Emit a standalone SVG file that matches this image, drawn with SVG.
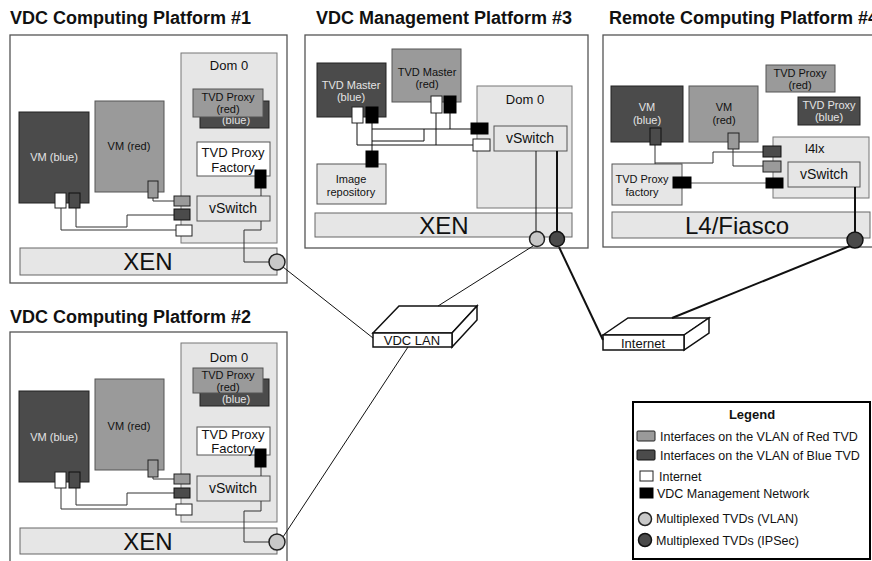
<svg xmlns="http://www.w3.org/2000/svg" width="872" height="561" viewBox="0 0 872 561">
<style>
text{font-family:"Liberation Sans",Arial,Helvetica,sans-serif;fill:#111}
.title{font-size:18px;font-weight:bold}
.plat{fill:#fff;stroke:#555;stroke-width:1.3}
.dom{fill:#e6e6e6;stroke:#777;stroke-width:1}
.bar{fill:#e6e6e6;stroke:#666;stroke-width:1}
.dark{fill:#4b4b4b;stroke:#222;stroke-width:1}
.mid{fill:#9a9a9a;stroke:#555;stroke-width:1}
.wbox{fill:#fff;stroke:#555;stroke-width:1}
.pr{fill:#9a9a9a;stroke:#222;stroke-width:1}
.pb{fill:#4b4b4b;stroke:#111;stroke-width:1}
.pw{fill:#fff;stroke:#222;stroke-width:1}
.pk{fill:#000;stroke:#000;stroke-width:1}
.ln{fill:none;stroke:#333;stroke-width:1}
.lg{fill:none;stroke:#555;stroke-width:1.2}
.thick{fill:none;stroke:#111;stroke-width:2}
.thin{fill:none;stroke:#111;stroke-width:1}
.cl{fill:#c8c8c8;stroke:#222;stroke-width:1.5}
.cd{fill:#4a4a4a;stroke:#111;stroke-width:1.5}
.sw{fill:#fff;stroke:#111;stroke-width:1.5}
.c{text-anchor:middle}
.s11{font-size:11px}
.s12{font-size:12px}
.s125{font-size:12.5px}
.s13{font-size:13px}
.s14{font-size:14px}
.big{font-size:24px}
.lt{fill:#e4e4e4}
</style>

<!-- Platform 1 -->
<g id="platform1">
  <text class="title" x="10" y="24">VDC Computing Platform #1</text>
  <rect class="plat" x="10" y="35" width="277" height="248"/>
  <rect class="dom" x="181" y="53" width="96" height="190"/>
  <text class="s13 c" x="229" y="70">Dom 0</text>
  <rect class="dark" x="200" y="101" width="69" height="27"/>
  <text class="s11 c lt" x="236" y="124">(blue)</text>
  <rect class="mid" x="193" y="89" width="70" height="28"/>
  <text class="s11 c" x="228" y="101">TVD Proxy</text>
  <text class="s11 c" x="228" y="113">(red)</text>
  <rect class="wbox" x="197" y="142" width="73" height="34"/>
  <text class="s13 c" x="233" y="157">TVD Proxy</text>
  <text class="s13 c" x="233" y="172">Factory</text>
  <rect class="wbox" x="197" y="196" width="73" height="25" style="fill:#e6e6e6"/>
  <text class="s14 c" x="233" y="213">vSwitch</text>
  <rect class="dark" x="19" y="112" width="70" height="91"/>
  <text class="s11 c lt" x="54" y="161">VM (blue)</text>
  <rect class="mid" x="95" y="101" width="69" height="91"/>
  <text class="s11 c" x="129" y="150">VM (red)</text>
  <rect class="bar" x="20" y="248" width="257" height="27"/>
  <text class="big c" x="148" y="270">XEN</text>
</g>

<!-- Platform 2 -->
<g id="platform2">
  <text class="title" x="10" y="323">VDC Computing Platform #2</text>
  <rect class="plat" x="10" y="332" width="277" height="245"/>
  <rect class="dom" x="181" y="343" width="96" height="179"/>
  <text class="s13 c" x="229" y="362">Dom 0</text>
  <rect class="dark" x="200" y="379" width="69" height="27"/>
  <text class="s11 c lt" x="236" y="403">(blue)</text>
  <rect class="mid" x="193" y="368" width="70" height="25"/>
  <text class="s11 c" x="228" y="379">TVD Proxy</text>
  <text class="s11 c" x="228" y="391">(red)</text>
  <rect class="wbox" x="197" y="427" width="73" height="28"/>
  <text class="s13 c" x="233" y="439">TVD Proxy</text>
  <text class="s13 c" x="233" y="453">Factory</text>
  <rect class="wbox" x="197" y="476" width="73" height="25" style="fill:#e6e6e6"/>
  <text class="s14 c" x="233" y="493">vSwitch</text>
  <rect class="dark" x="19" y="391" width="70" height="91"/>
  <text class="s11 c lt" x="54" y="441">VM (blue)</text>
  <rect class="mid" x="95" y="379" width="69" height="91"/>
  <text class="s11 c" x="129" y="430">VM (red)</text>
  <rect class="bar" x="20" y="528" width="257" height="26"/>
  <text class="big c" x="148" y="550">XEN</text>
</g>

<!-- Platform 3 -->
<g id="platform3">
  <text class="title" x="316" y="24">VDC Management Platform #3</text>
  <rect class="plat" x="305" y="35" width="283" height="213"/>
  <rect class="dark" x="317" y="63" width="69" height="54"/>
  <text class="s11 c lt" x="351" y="89">TVD Master</text>
  <text class="s11 c lt" x="351" y="101">(blue)</text>
  <rect class="mid" x="392" y="49" width="69" height="53"/>
  <text class="s11 c" x="427" y="76">TVD Master</text>
  <text class="s11 c" x="427" y="88">(red)</text>
  <rect class="dom" x="477" y="86" width="95" height="122"/>
  <text class="s13 c" x="525" y="104">Dom 0</text>
  <rect class="dom" x="494" y="126" width="73" height="25" style="stroke:#555"/>
  <text class="s14 c" x="530" y="143">vSwitch</text>
  <rect class="dom" x="317" y="164" width="69" height="40" style="stroke:#555"/>
  <text class="s11 c" x="351" y="183">Image</text>
  <text class="s11 c" x="351" y="196">repository</text>
  <rect class="bar" x="315" y="213" width="257" height="24"/>
  <text class="big c" x="444" y="234">XEN</text>
</g>

<!-- Platform 4 -->
<g id="platform4">
  <text class="title" x="609" y="24">Remote Computing Platform #4</text>
  <rect class="plat" x="603" y="35" width="285" height="212"/>
  <rect class="mid" x="766" y="65" width="69" height="27"/>
  <text class="s11 c" x="800" y="77">TVD Proxy</text>
  <text class="s11 c" x="800" y="89">(red)</text>
  <rect class="dark" x="798" y="97" width="62" height="28"/>
  <text class="s11 c lt" x="829" y="109">TVD Proxy</text>
  <text class="s11 c lt" x="829" y="121">(blue)</text>
  <rect class="dark" x="611" y="86" width="72" height="56"/>
  <text class="s11 c lt" x="647" y="111">VM</text>
  <text class="s11 c lt" x="647" y="124">(blue)</text>
  <rect class="mid" x="689" y="86" width="69" height="56"/>
  <text class="s11 c" x="724" y="111">VM</text>
  <text class="s11 c" x="724" y="124">(red)</text>
  <rect class="dom" x="773" y="137" width="96" height="61"/>
  <text class="s13" x="805" y="153">l4lx</text>
  <rect class="dom" x="788" y="162" width="72" height="25" style="stroke:#555"/>
  <text class="s14 c" x="824" y="179">vSwitch</text>
  <rect class="dom" x="612" y="164" width="70" height="41" style="stroke:#555"/>
  <text class="s11 c" x="642" y="183">TVD Proxy</text>
  <text class="s11 c" x="642" y="196">factory</text>
  <rect class="bar" x="612" y="212" width="258" height="26"/>
  <text class="big c" x="737" y="234">L4/Fiasco</text>
</g>

<!-- Network devices -->
<g id="vdclan">
  <path class="sw" d="M373,333 L399,306 L477,306 L452,333 Z"/>
  <path class="sw" d="M452,333 L477,306 L477,320 L452,347 Z"/>
  <rect class="sw" x="373" y="333" width="79" height="14"/>
  <text class="s13 c" x="412" y="345">VDC LAN</text>
</g>
<g id="internet">
  <path class="sw" d="M603,335 L628,318 L709,318 L684,335 Z"/>
  <path class="sw" d="M684,335 L709,318 L709,333 L684,350 Z"/>
  <rect class="sw" x="603" y="335" width="81" height="15"/>
  <text class="s13 c" x="643" y="348">Internet</text>
</g>

<!-- Connectors -->
<g id="connectors">
  <polyline class="ln" points="153,198 153,201 174,201"/>
  <polyline class="ln" points="76,208 76,227 127,227 127,215 174,215"/>
  <polyline class="ln" points="61,208 61,230 176,230"/>
  <line class="ln" x1="261" y1="188" x2="261" y2="196"/>
  <polyline class="ln" points="261,221 261,230 244,230 244,262 269,262"/>
  <polyline class="ln" points="153,477 153,479 174,479"/>
  <polyline class="ln" points="76,488 76,505 127,505 127,493 174,493"/>
  <polyline class="ln" points="61,488 61,509 176,509"/>
  <line class="ln" x1="261" y1="467" x2="261" y2="476"/>
  <polyline class="ln" points="261,501 261,511 244,511 244,542 269,542"/>
  <polyline class="thin" points="357,123 357,145 473,145"/>
  <line class="thin" x1="436" y1="113" x2="436" y2="145"/>
  <line class="thin" x1="372" y1="123" x2="372" y2="151"/>
  <line class="thin" x1="372" y1="129" x2="471" y2="129"/>
  <polyline class="thin" points="372,141 424,141 424,129"/>
  <line class="thin" x1="450" y1="113" x2="450" y2="129"/>
  <line class="thin" x1="536" y1="151" x2="536" y2="232"/>
  <line class="thick" x1="557" y1="151" x2="557" y2="232"/>
  <line class="ln" x1="655" y1="145" x2="655" y2="164"/>
  <polyline class="ln" points="655,163 713,163 713,152 763,152"/>
  <polyline class="ln" points="733,149 733,166 763,166"/>
  <line class="lg" x1="691" y1="183" x2="766" y2="183"/>
  <line class="thick" x1="855" y1="187" x2="855" y2="232"/>
  <line class="thin" x1="283" y1="267" x2="373" y2="338"/>
  <line class="thin" x1="283" y1="537" x2="408" y2="347"/>
  <line class="thin" x1="533" y1="246" x2="438" y2="306"/>
  <line class="thick" x1="559" y1="247" x2="603" y2="340"/>
  <line class="thick" x1="850" y1="246" x2="672" y2="318"/>
</g>

<!-- ports -->
<g id="ports">
  <rect class="pr" x="148" y="181" width="10" height="17"/>
  <rect class="pw" x="55" y="193" width="11" height="15"/>
  <rect class="pb" x="69" y="193" width="11" height="15"/>
  <rect class="pr" x="174" y="196" width="16" height="10"/>
  <rect class="pb" x="174" y="209" width="16" height="11"/>
  <rect class="pw" x="176" y="225" width="16" height="11"/>
  <rect class="pk" x="255" y="170" width="11" height="18"/>
  <rect class="pr" x="148" y="460" width="10" height="17"/>
  <rect class="pw" x="55" y="472" width="11" height="16"/>
  <rect class="pb" x="69" y="472" width="11" height="16"/>
  <rect class="pr" x="174" y="474" width="16" height="10"/>
  <rect class="pb" x="174" y="488" width="16" height="10"/>
  <rect class="pw" x="176" y="504" width="16" height="11"/>
  <rect class="pk" x="255" y="449" width="11" height="18"/>
  <rect class="pw" x="352" y="107" width="11" height="16"/>
  <rect class="pk" x="366" y="107" width="12" height="16"/>
  <rect class="pw" x="431" y="96" width="11" height="17"/>
  <rect class="pk" x="444" y="96" width="12" height="17"/>
  <rect class="pk" x="471" y="123" width="17" height="11"/>
  <rect class="pw" x="473" y="139" width="17" height="12"/>
  <rect class="pk" x="366" y="151" width="12" height="16"/>
  <rect class="pb" x="650" y="128" width="11" height="17"/>
  <rect class="pr" x="728" y="133" width="11" height="16"/>
  <rect class="pb" x="763" y="146" width="18" height="11"/>
  <rect class="pr" x="763" y="161" width="18" height="11"/>
  <rect class="pk" x="766" y="178" width="17" height="10"/>
  <rect class="pk" x="673" y="177" width="18" height="11"/>
</g>

<!-- multiplex points -->
<g id="muxes">
  <circle class="cl" cx="277" cy="262" r="8"/>
  <circle class="cl" cx="277" cy="542" r="8"/>
  <circle class="cl" cx="537" cy="239" r="7.5"/>
  <circle class="cd" cx="557" cy="239" r="7.5"/>
  <circle class="cd" cx="855" cy="240" r="8"/>
</g>

<!-- Legend -->
<g id="legend">
  <rect x="633" y="402" width="237" height="157" fill="#fff" stroke="#000" stroke-width="2"/>
  <text class="s13 c" x="752" y="419" font-weight="bold">Legend</text>
  <rect class="pr" x="637" y="431" width="18" height="10" rx="1"/>
  <text class="s125" x="660" y="441">Interfaces on the VLAN of Red TVD</text>
  <rect class="pb" x="637" y="450" width="18" height="10" rx="1"/>
  <text class="s125" x="660" y="460">Interfaces on the VLAN of Blue TVD</text>
  <rect class="pw" x="640" y="471" width="13" height="10"/>
  <text class="s125" x="659" y="481">Internet</text>
  <rect class="pk" x="640" y="488" width="13" height="10"/>
  <text class="s125" x="657" y="498">VDC Management Network</text>
  <circle class="cl" cx="645" cy="519" r="6.5"/>
  <text class="s125" x="656" y="523">Multiplexed TVDs (VLAN)</text>
  <circle class="cd" cx="645" cy="540" r="6.5"/>
  <text class="s125" x="656" y="545">Multiplexed TVDs (IPSec)</text>
</g>
</svg>
